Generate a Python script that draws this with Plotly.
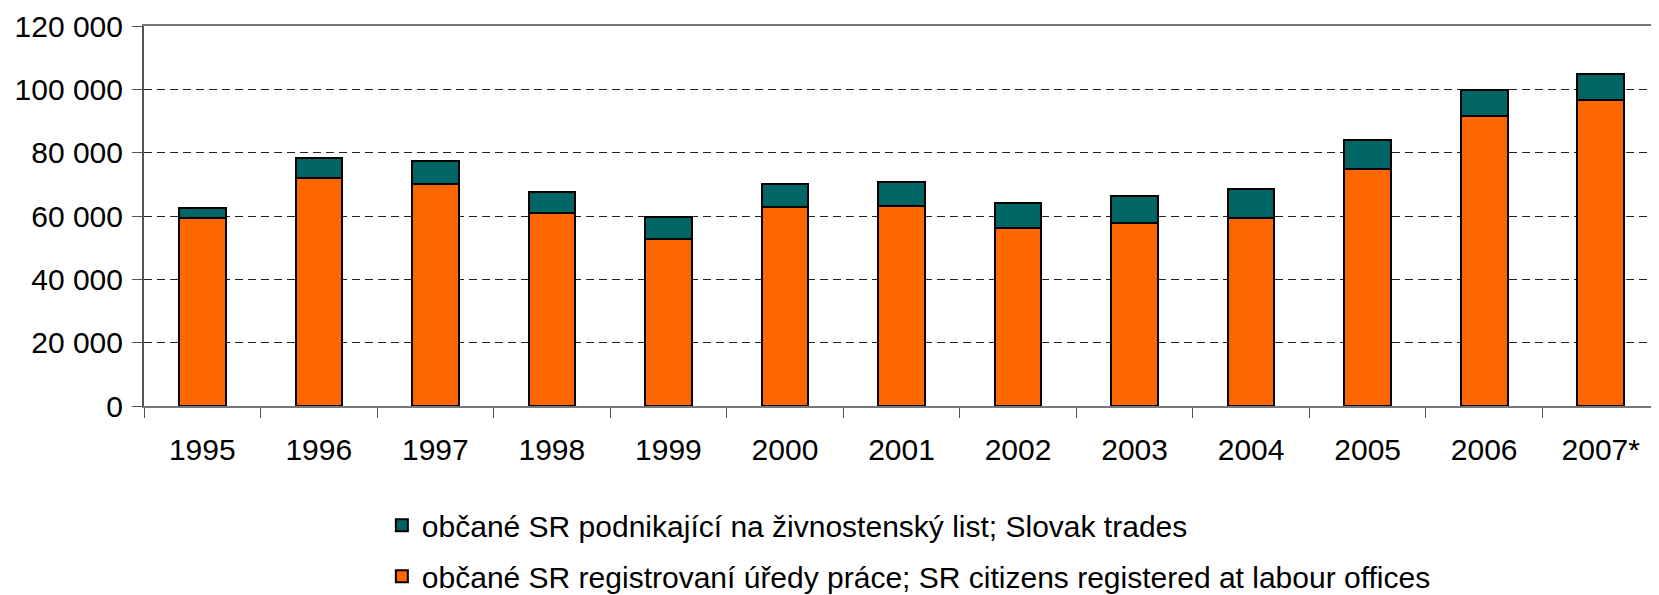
import plotly.graph_objects as go

# data
years = ["1995", "1996", "1997", "1998", "1999", "2000", "2001",
         "2002", "2003", "2004", "2005", "2006", "2007*"]
registered = [59500, 72000, 70000, 61000, 52800, 63000, 63200,
              56300, 57800, 59400, 75000, 91500, 96600]
trades = [3100, 6200, 7300, 6700, 6800, 7000, 7500,
          7700, 8500, 9100, 9000, 8300, 8300]

name_reg = "občané SR registrovaní úředy práce; SR citizens registered at labour offices"
name_trd = "občané SR podnikající na živnostenský list; Slovak trades"

y_ticks = [0, 20000, 40000, 60000, 80000, 100000, 120000]

fig = go.Figure()

fig.add_trace(go.Bar(x=years, y=registered, name=name_reg,
                     legendgroup="a", legendrank=2,
                     marker=dict(color="#FF6600",
                                 line=dict(color="black", width=2))))
fig.add_trace(go.Bar(x=years, y=trades, name=name_trd,
                     legendgroup="b", legendrank=1,
                     marker=dict(color="#006565",
                                 line=dict(color="black", width=2))))

# page body has an 8px margin, so the figure is 8px smaller than the window
fig.update_layout(
    width=1651, height=587,
    barmode="stack",
    bargap=0.6,
    separators=". ",
    plot_bgcolor="white",
    paper_bgcolor="white",
    font=dict(family="Liberation Sans, Arial, sans-serif", color="black", size=30),
    margin=dict(l=136, r=0, t=18, b=189, autoexpand=False),
    legend=dict(orientation="v", traceorder="grouped",
                x=0.157, xanchor="left",
                yref="container", y=0.163, yanchor="top",
                font=dict(size=30), tracegroupgap=9,
                borderwidth=0, bgcolor="rgba(0,0,0,0)"),
)

fig.update_xaxes(type="category", tickson="boundaries",
                 ticks="outside", ticklen=10, tickcolor="#555555",
                 ticklabelstandoff=16, automargin=False,
                 showline=True, linecolor="#777777", linewidth=2,
                 mirror=True, showgrid=False,
                 tickfont=dict(size=30))

fig.update_yaxes(range=[0, 120000], tickvals=y_ticks, tickformat=",d",
                 ticks="outside", ticklen=10, tickcolor="#555555",
                 ticklabelstandoff=3, automargin=False,
                 showline=True, linecolor="#555555", linewidth=2,
                 showgrid=True, gridcolor="#222222", gridwidth=1,
                 griddash="8px,5px", zeroline=False,
                 tickfont=dict(size=30))

fig.write_html("out.html")
